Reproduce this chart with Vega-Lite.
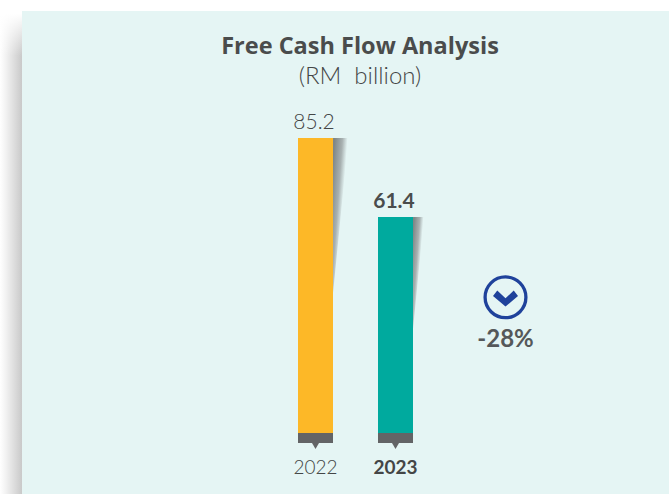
{
  "$schema": "https://vega.github.io/schema/vega-lite/v6.json",
  "width": 647, "height": 483,
  "autosize": {"type": "none"},
  "padding": {"left": 22, "top": 11, "right": 0, "bottom": 0},
  "background": "#ffffff",
  "view": {"fill": "#e5f5f4", "stroke": null},
  "config": {"font": "Lato"},
  "title": {
    "text": "Free Cash Flow Analysis",
    "subtitle": "(RM\u00a0 billion)",
    "anchor": "middle", "frame": "group", "dx": 14.5, "offset": -78,
    "font": "Open Sans", "fontSize": 23.5, "fontWeight": "bold", "color": "#4a4c4c",
    "subtitleFont": "Lato", "subtitleFontSize": 24, "subtitleFontWeight": 300, "subtitleColor": "#444646", "subtitlePadding": 7
  },
  "data": {"values": [
    {"year": "2022", "value": 85.2},
    {"year": "2023", "value": 61.4}
  ]},
  "encoding": {
    "x": {"field": "year", "type": "nominal", "scale": {"type": "band", "domain": ["2022", "2023"], "range": [276, 391], "paddingInner": 0.5625, "paddingOuter": 0, "align": 0},
      "axis": {"title": null, "labelAngle": 0, "domain": false, "ticks": false, "grid": false, "labelPadding": -36, "labelFont": "Lato", "labelFontSize": 19, "labelColor": "#444646", "labelFontWeight": {"expr": "datum.value == '2023' ? 'bold' : 300"}}}
  },
  "layer": [
    {
      "data": {"values": [{"panel": "shadow"}]},
      "mark": {"type": "rect", "fill": {"gradient": "linear", "x1": 0, "x2": 1, "y1": 0, "y2": 0, "stops": [{"offset": 0, "color": "#ffffff"}, {"offset": 0.25, "color": "#f3f3f3"}, {"offset": 1, "color": "#c9c9c9"}]}},
      "encoding": {"x": {"value": -22}, "x2": {"value": 0}, "y": {"value": 3}, "y2": {"value": 483}}
    },
    {
      "data": {"values": [{"panel": "shadowfade"}]},
      "mark": {"type": "rect", "fill": {"gradient": "linear", "x1": 0, "x2": 0, "y1": 0, "y2": 1, "stops": [{"offset": 0, "color": "#ffffff"}, {"offset": 1, "color": "rgba(255,255,255,0)"}]}},
      "encoding": {"x": {"value": -22}, "x2": {"value": 0}, "y": {"value": 3}, "y2": {"value": 45}}
    },
    {
      "mark": {"type": "point", "filled": true, "opacity": 1, "xOffset": 17.5, "shape": "M0 0 L0.1 0 L0 1 Z",
        "fill": {"gradient": "linear", "x1": 0, "y1": 0.15, "x2": 0.55, "y2": 0.55, "stops": [{"offset": 0, "color": "#7f8787"}, {"offset": 0.6, "color": "#a8b1b1"}, {"offset": 1, "color": "#e5f5f4"}]}},
      "encoding": {
        "y": {"field": "value", "type": "quantitative", "scale": {"domain": [-22.06, 123.47]}, "axis": null},
        "size": {"field": "value", "type": "quantitative", "scale": {"type": "pow", "exponent": 2, "domain": [0, 85.2], "range": [0, 96100]}, "legend": null}
      }
    },
    {
      "mark": {"type": "bar"},
      "encoding": {
        "y": {"field": "value", "type": "quantitative", "scale": {"domain": [-22.06, 123.47]}, "axis": null},
        "y2": {"datum": -3.68},
        "color": {"field": "year", "type": "nominal", "scale": {"domain": ["2022", "2023"], "range": ["#fdb827", "#00aa9e"]}, "legend": null}
      }
    },
    {
      "mark": {"type": "bar", "color": "#636466"},
      "encoding": {"y": {"datum": -3.68, "type": "quantitative", "scale": {"domain": [-22.06, 123.47]}, "axis": null}, "y2": {"datum": -6.69}}
    },
    {
      "mark": {"type": "point", "shape": "triangle-down", "filled": true, "color": "#636466", "opacity": 1, "size": 49},
      "encoding": {"y": {"datum": -7.59, "type": "quantitative", "scale": {"domain": [-22.06, 123.47]}, "axis": null}}
    },
    {
      "transform": [{"filter": "datum.year == '2022'"}],
      "mark": {"type": "text", "baseline": "alphabetic", "dy": -9, "dx": -1.5, "fontSize": 21, "letterSpacing": 0.4, "fontWeight": 300, "color": "#444646"},
      "encoding": {
        "y": {"field": "value", "type": "quantitative", "scale": {"domain": [-22.06, 123.47]}, "axis": null},
        "text": {"field": "value", "type": "quantitative", "format": ".1f"}
      }
    },
    {
      "transform": [{"filter": "datum.year == '2023'"}],
      "mark": {"type": "text", "baseline": "alphabetic", "dy": -9, "dx": -1.5, "fontSize": 21, "letterSpacing": 0.4, "fontWeight": "bold", "color": "#4a4c4c"},
      "encoding": {
        "y": {"field": "value", "type": "quantitative", "scale": {"domain": [-22.06, 123.47]}, "axis": null},
        "text": {"field": "value", "type": "quantitative", "format": ".1f"}
      }
    },
    {
      "data": {"values": [{"year": "2023", "label": "-28%"}]},
      "layer": [
        {"mark": {"type": "point", "shape": "circle", "filled": false, "stroke": "#1f429b", "strokeWidth": 3.3, "opacity": 1, "size": 1665, "xOffset": 110},
         "encoding": {"y": {"datum": 37.2, "type": "quantitative", "scale": {"domain": [-22.06, 123.47]}, "axis": null}}},
        {"mark": {"type": "point", "shape": "M-0.5 -0.05 L-0.33 -0.27 L0 0.04 L0.33 -0.27 L0.5 -0.05 L0 0.37 Z", "filled": true, "fill": "#1f429b", "opacity": 1, "size": 2500, "xOffset": 110},
         "encoding": {"y": {"datum": 37.2, "type": "quantitative", "scale": {"domain": [-22.06, 123.47]}, "axis": null}}},
        {"mark": {"type": "text", "align": "center", "baseline": "alphabetic", "fontSize": 24, "fontWeight": "bold", "color": "#55585a", "xOffset": 110, "letterSpacing": 0.5},
         "encoding": {"y": {"datum": 22.2, "type": "quantitative", "scale": {"domain": [-22.06, 123.47]}, "axis": null}, "text": {"field": "label", "type": "nominal"}}}
      ]
    }
  ]
}
